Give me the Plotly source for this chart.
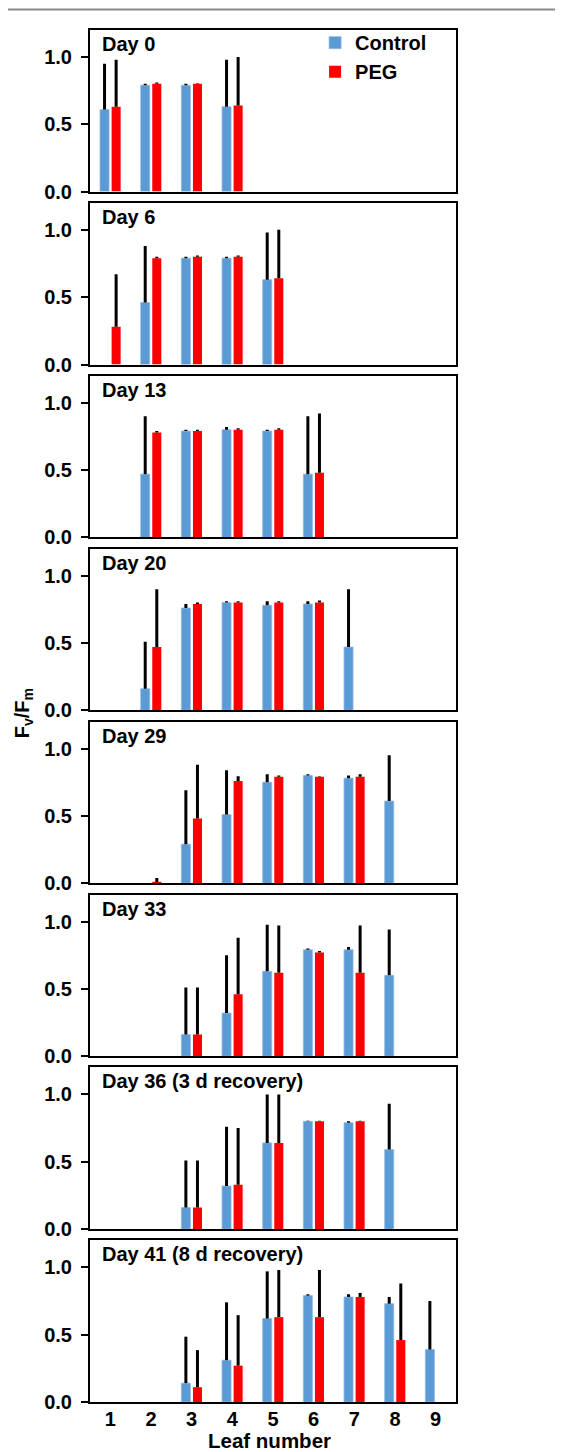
import plotly.graph_objects as go
from plotly.subplots import make_subplots

N = None
leaves = [1, 2, 3, 4, 5, 6, 7, 8, 9]
tick_labels = ["1", "2", "3", "4", "5", "6", "7", "8", "9"]
day_labels = ["Day 0", "Day 6", "Day 13", "Day 20", "Day 29", "Day 33",
              "Day 36 (3 d recovery)", "Day 41 (8 d recovery)"]

control_day0 = [0.61, 0.79, 0.79, 0.63, N, N, N, N, N]
control_err_day0 = [0.34, 0.01, 0.01, 0.35, N, N, N, N, N]
peg_day0 = [0.63, 0.80, 0.80, 0.64, N, N, N, N, N]
peg_err_day0 = [0.35, 0.01, 0.005, 0.36, N, N, N, N, N]

control_day6 = [N, 0.46, 0.79, 0.79, 0.63, N, N, N, N]
control_err_day6 = [N, 0.42, 0.01, 0.01, 0.35, N, N, N, N]
peg_day6 = [0.28, 0.79, 0.80, 0.80, 0.64, N, N, N, N]
peg_err_day6 = [0.39, 0.01, 0.01, 0.01, 0.36, N, N, N, N]

control_day13 = [N, 0.47, 0.79, 0.80, 0.79, 0.47, N, N, N]
control_err_day13 = [N, 0.43, 0.01, 0.02, 0.01, 0.43, N, N, N]
peg_day13 = [N, 0.78, 0.79, 0.80, 0.80, 0.48, N, N, N]
peg_err_day13 = [N, 0.01, 0.01, 0.01, 0.01, 0.44, N, N, N]

control_day20 = [N, 0.16, 0.76, 0.80, 0.78, 0.79, 0.47, N, N]
control_err_day20 = [N, 0.35, 0.03, 0.01, 0.03, 0.02, 0.43, N, N]
peg_day20 = [N, 0.47, 0.79, 0.80, 0.80, 0.80, N, N, N]
peg_err_day20 = [N, 0.43, 0.01, 0.01, 0.01, 0.015, N, N, N]

control_day29 = [N, N, 0.29, 0.51, 0.75, 0.80, 0.78, 0.61, N]
control_err_day29 = [N, N, 0.40, 0.33, 0.06, 0.01, 0.02, 0.34, N]
peg_day29 = [N, 0.01, 0.48, 0.76, 0.79, 0.79, 0.79, N, N]
peg_err_day29 = [N, 0.03, 0.40, 0.035, 0.01, 0.005, 0.02, N, N]

control_day33 = [N, N, 0.16, 0.32, 0.63, 0.79, 0.79, 0.60, N]
control_err_day33 = [N, N, 0.35, 0.43, 0.345, 0.01, 0.02, 0.34, N]
peg_day33 = [N, N, 0.16, 0.46, 0.62, 0.77, 0.62, N, N]
peg_err_day33 = [N, N, 0.35, 0.42, 0.35, 0.01, 0.35, N, N]

control_day36 = [N, N, 0.16, 0.32, 0.64, 0.80, 0.79, 0.59, N]
control_err_day36 = [N, N, 0.35, 0.44, 0.36, 0.005, 0.01, 0.34, N]
peg_day36 = [N, N, 0.16, 0.33, 0.64, 0.80, 0.80, N, N]
peg_err_day36 = [N, N, 0.35, 0.42, 0.36, 0.005, 0.005, N, N]

control_day41 = [N, N, 0.14, 0.31, 0.62, 0.79, 0.78, 0.73, 0.39]
control_err_day41 = [N, N, 0.345, 0.43, 0.35, 0.01, 0.02, 0.05, 0.36]
peg_day41 = [N, N, 0.11, 0.27, 0.63, 0.63, 0.78, 0.46, N]
peg_err_day41 = [N, N, 0.275, 0.375, 0.35, 0.35, 0.03, 0.42, N]

control_all = [control_day0, control_day6, control_day13, control_day20,
               control_day29, control_day33, control_day36, control_day41]
control_err_all = [control_err_day0, control_err_day6, control_err_day13, control_err_day20,
                   control_err_day29, control_err_day33, control_err_day36, control_err_day41]
peg_all = [peg_day0, peg_day6, peg_day13, peg_day20,
           peg_day29, peg_day33, peg_day36, peg_day41]
peg_err_all = [peg_err_day0, peg_err_day6, peg_err_day13, peg_err_day20,
               peg_err_day29, peg_err_day33, peg_err_day36, peg_err_day41]

BLUE = "#5B9BD5"
RED = "#FF0000"
FONT = "Arial, Liberation Sans, sans-serif"

nrows = 8
fig = make_subplots(rows=nrows, cols=1, shared_xaxes=True, vertical_spacing=11.3 / 1372)

def zeros(lst):
    return [0 if v is not None else None for v in lst]

for i in range(nrows):
    r = i + 1
    fig.add_trace(go.Bar(
        x=leaves, y=control_all[i], name="Control", showlegend=(i == 0),
        marker=dict(color=BLUE, line=dict(color="#8FB9E3", width=0.8)),
        error_y=dict(type="data", symmetric=False, array=control_err_all[i],
                     arrayminus=zeros(control_err_all[i]),
                     color="black", thickness=3, width=0),
        offsetgroup="c", legendgroup="c"), row=r, col=1)
    fig.add_trace(go.Bar(
        x=leaves, y=peg_all[i], name="PEG", showlegend=(i == 0),
        marker=dict(color=RED, line=dict(width=0)),
        error_y=dict(type="data", symmetric=False, array=peg_err_all[i],
                     arrayminus=zeros(peg_err_all[i]),
                     color="black", thickness=3, width=0),
        offsetgroup="p", legendgroup="p"), row=r, col=1)
    fig.update_yaxes(range=[0, 1.2], tickvals=[0, 0.5, 1.0], tickformat=".1f",
                     showline=True, linecolor="black", linewidth=2, mirror=True,
                     ticks="outside", ticklen=7, tickwidth=2, tickcolor="black",
                     ticklabelstandoff=5,
                     showgrid=False, zeroline=False,
                     tickfont=dict(size=20, color="black", family=FONT, weight="bold"),
                     row=r, col=1)
    fig.update_xaxes(range=[0.5, 9.5], tickvals=leaves, ticktext=tick_labels,
                     showline=True, linecolor="black", linewidth=2, mirror=True,
                     ticks="", showgrid=False, zeroline=False,
                     showticklabels=(r == nrows), ticklabelstandoff=-2,
                     tickfont=dict(size=20, color="black", family=FONT, weight="bold"),
                     row=r, col=1)
    xa = "x" if r == 1 else f"x{r}"
    ya = "y" if r == 1 else f"y{r}"
    fig.add_annotation(text=day_labels[i], xref=f"{xa} domain", yref=f"{ya} domain",
                       x=0.028, y=1.0, yshift=-1, xanchor="left", yanchor="top",
                       showarrow=False,
                       font=dict(size=20, color="black", family=FONT, weight="bold"))

fig.add_annotation(text="F<sub>v</sub>/F<sub>m</sub>", xref="paper", yref="paper",
                   x=-0.183, y=0.502, textangle=-90, showarrow=False,
                   xanchor="center", yanchor="middle",
                   font=dict(size=20, color="black", family=FONT, weight="bold"))
fig.add_annotation(text="Leaf number", xref="paper", yref="paper",
                   x=0.49, y=-0.0284, showarrow=False,
                   xanchor="center", yanchor="middle",
                   font=dict(size=20.5, color="black", family=FONT, weight="bold"))

fig.add_shape(type="line", xref="paper", yref="paper",
              x0=-0.3, x1=1.4, y0=(1394 - 1.5) / 1372, y1=(1394 - 1.5) / 1372,
              line=dict(color="#8a8a8a", width=2))

fig.update_layout(
    width=555, height=1444,
    margin=dict(l=82, r=107, t=22, b=50),
    paper_bgcolor="white", plot_bgcolor="white",
    barmode="group", bargap=0.43, bargroupgap=0.22,
    font=dict(family=FONT, color="black", weight="bold"),
    legend=dict(x=0.615, y=1.005, xanchor="left", yanchor="top",
                bgcolor="rgba(0,0,0,0)", tracegroupgap=0,
                font=dict(size=20, color="black", family=FONT, weight="bold")),
    showlegend=True,
)

fig.write_html("out.html")
